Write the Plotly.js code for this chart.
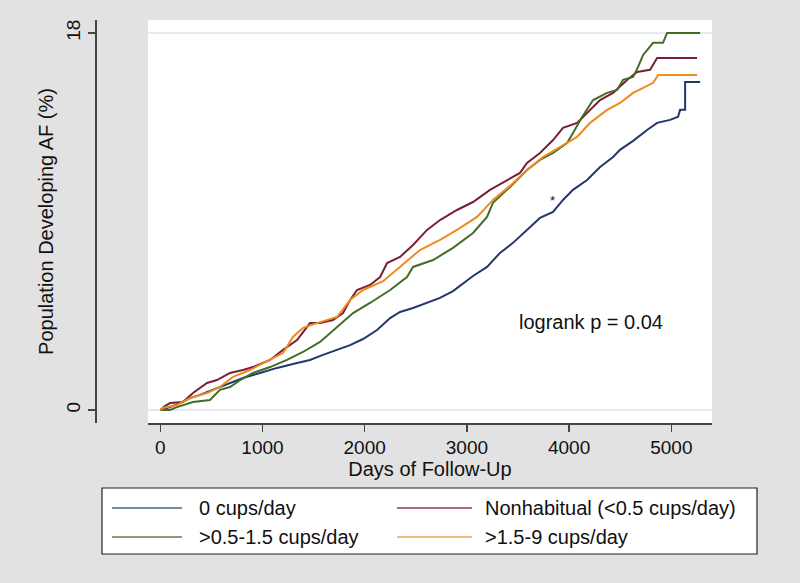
<!DOCTYPE html>
<html>
<head>
<meta charset="utf-8">
<script src="https://cdn.plot.ly/plotly-3.0.1.min.js"></script>
<style>
  html, body { margin: 0; padding: 0; background: #e2e2e2; }
  #chart { width: 800px; height: 583px; }
</style>
</head>
<body>
<div id="chart"></div>
<script>
// ---- Data ----
const seriesNames = ["0 cups/day", "Nonhabitual (<0.5 cups/day)", ">0.5-1.5 cups/day", ">1.5-9 cups/day"];

const daysNone = [0,95,193,291,388,486,584,682,809,976,1142,1338,1465,1592,1729,1857,1984,2121,2249,2346,2473,2610,2737,2864,2962,3060,3197,3324,3451,3588,3715,3843,3940,4038,4176,4303,4430,4498,4626,4763,4861,4988,5066,5086,5135,5135,5282];
const pctNone  = [0,0.14,0.33,0.57,0.72,0.91,1.10,1.29,1.53,1.77,2.01,2.24,2.39,2.63,2.87,3.10,3.39,3.82,4.39,4.68,4.87,5.11,5.35,5.68,6.06,6.40,6.83,7.50,7.98,8.60,9.17,9.46,10.03,10.51,10.98,11.60,12.08,12.42,12.85,13.37,13.71,13.85,14.00,14.33,14.33,15.66,15.66];

const daysNonhab = [0,45,95,222,320,457,555,682,809,907,1074,1201,1338,1465,1563,1690,1788,1857,1925,2052,2151,2219,2346,2473,2610,2737,2903,3060,3226,3393,3519,3588,3715,3843,3940,4078,4176,4303,4430,4567,4665,4792,4861,5252];
const pctNonhab  = [0,0.19,0.33,0.38,0.81,1.29,1.43,1.77,1.91,2.05,2.39,2.87,3.34,4.15,4.15,4.30,4.63,5.25,5.73,5.97,6.35,7.02,7.31,7.88,8.60,9.07,9.55,9.93,10.51,10.98,11.32,11.80,12.27,12.89,13.47,13.71,14.18,14.80,15.14,15.76,16.14,16.24,16.81,16.81];

const daysMid = [0,95,163,320,486,584,682,780,907,1074,1240,1396,1563,1729,1886,2052,2249,2414,2473,2669,2864,3060,3197,3255,3422,3588,3715,3843,3980,4038,4127,4235,4372,4469,4528,4626,4675,4724,4822,4919,4958,5282];
const pctMid  = [0,0,0.14,0.38,0.48,0.96,1.10,1.43,1.77,2.05,2.39,2.77,3.25,3.96,4.63,5.11,5.73,6.35,6.83,7.16,7.74,8.45,9.22,9.89,10.65,11.46,11.94,12.27,12.75,13.23,13.99,14.80,15.14,15.28,15.76,15.90,16.38,16.95,17.53,17.53,18.0,18.0];

const daysHigh = [0,26,163,291,457,584,711,878,1005,1201,1298,1396,1533,1729,1857,1984,2180,2375,2541,2737,2903,3099,3255,3422,3588,3745,3911,4078,4205,4372,4498,4626,4724,4822,4871,5252];
const pctHigh  = [0,0.10,0.24,0.57,0.81,1.10,1.58,1.91,2.24,2.72,3.49,3.92,4.15,4.44,5.25,5.73,6.15,6.95,7.64,8.12,8.60,9.22,10.03,10.70,11.46,12.08,12.56,13.04,13.71,14.33,14.66,15.14,15.38,15.62,16.00,16.00];

const xTickVals = [0, 1000, 2000, 3000, 4000, 5000];
const yTickVals = [0, 18];
const annotationText = "logrank p = 0.04";
const starMark = {day: 3833, pct: 10.0};

// ---- Styling ----
const colors = ["#22386a", "#7a2034", "#436c25", "#ee8a1e"];
const legendColors = ["#51637f", "#8a4050", "#667a4e", "#e9a654"];
const FONT = "Liberation Sans, Helvetica, Arial, sans-serif";
const W = 800, H = 583;
const px = x => x / W;
const py = y => 1 - y / H;

const xs = [daysNone, daysNonhab, daysMid, daysHigh];
const ys = [pctNone, pctNonhab, pctMid, pctHigh];

const traces = xs.map((x, i) => ({
  type: "scatter",
  mode: "lines",
  x: x,
  y: ys[i],
  name: seriesNames[i],
  line: {color: colors[i], width: 2, shape: "linear"},
  showlegend: false,
  hoverinfo: "skip"
}));

// Custom legend box (Stata-style)
const shapes = [{
  type: "rect", xref: "paper", yref: "paper",
  x0: px(102), x1: px(757), y0: py(554), y1: py(488),
  line: {color: "#222", width: 1.2}, fillcolor: "#ffffff", layer: "below"
}];
const annotations = [];
const colLineX = [[112, 182], [397, 472]];
const colTextX = [197, 483];
const rowY = [508, 537];
seriesNames.forEach((nm, i) => {
  const c = i % 2, r = Math.floor(i / 2);
  shapes.push({
    type: "line", xref: "paper", yref: "paper",
    x0: px(colLineX[c][0]), x1: px(colLineX[c][1]), y0: py(rowY[r]), y1: py(rowY[r]),
    line: {color: legendColors[i], width: 1.3}
  });
  annotations.push({
    xref: "paper", yref: "paper", x: px(colTextX[c]), y: py(rowY[r]),
    xanchor: "left", yanchor: "middle", showarrow: false,
    text: nm, font: {family: FONT, size: 20, color: "#111"}
  });
});

annotations.push({
  xref: "paper", yref: "paper", x: px(591), y: py(322),
  xanchor: "center", yanchor: "middle", showarrow: false,
  text: annotationText, font: {family: FONT, size: 20, color: "#111"}
});
annotations.push({
  xref: "x", yref: "y", x: starMark.day, y: starMark.pct,
  xanchor: "center", yanchor: "middle", showarrow: false,
  text: "*", font: {family: FONT, size: 13, color: "#111"}
});

const layout = {
  width: W, height: H,
  margin: {l: 0, r: 0, t: 0, b: 0, pad: 0},
  paper_bgcolor: "#e2e2e2",
  plot_bgcolor: "#ffffff",
  font: {family: FONT, size: 20, color: "#111"},
  showlegend: false,
  xaxis: {
    domain: [px(148), px(712)],
    range: [-120, 5398],
    anchor: "y",
    tickvals: xTickVals,
    ticktext: xTickVals.map(String),
    ticks: "outside", ticklen: 7, tickwidth: 1.5, tickcolor: "#444",
    showline: true, linecolor: "#444", linewidth: 1.5,
    showgrid: false, zeroline: false,
    tickfont: {family: FONT, size: 19, color: "#111"},
    title: {text: "Days of Follow-Up", standoff: 1, font: {family: FONT, size: 20, color: "#111"}}
  },
  yaxis: {
    domain: [1 - 423 / H, 1 - 20 / H],
    range: [-0.62, 18.62],
    anchor: "free", position: px(95),
    tickvals: yTickVals,
    ticktext: yTickVals.map(String),
    tickangle: -90,
    ticks: "outside", ticklen: 7, tickwidth: 1.5, tickcolor: "#444",
    showline: true, linecolor: "#444", linewidth: 1.5,
    showgrid: true, gridcolor: "#e6eaee", gridwidth: 1.5,
    zeroline: false,
    tickfont: {family: FONT, size: 19, color: "#111"},
    title: {text: "Population Developing AF (%)", standoff: 3, font: {family: FONT, size: 20, color: "#111"}}
  },
  shapes: shapes,
  annotations: annotations
};

Plotly.newPlot("chart", traces, layout, {staticPlot: true, displayModeBar: false});
</script>
</body>
</html>
